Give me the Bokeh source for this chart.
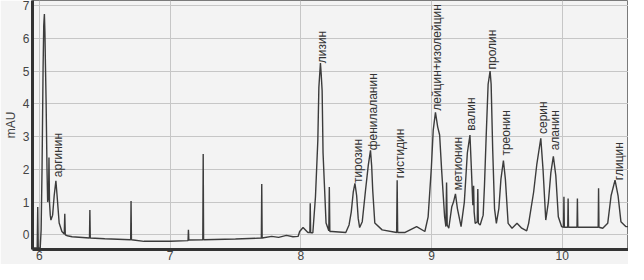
import math
from bokeh.plotting import figure
from bokeh.models import Range1d, FixedTicker, ColumnDataSource
from bokeh.embed import file_html
from bokeh.resources import INLINE
from bokeh.core.properties import value

# retention time (min) and absorbance (mAU)
time = [
    5.950, 5.983, 5.987, 5.991, 6.006, 6.013, 6.020, 6.028, 6.033, 6.038,
    6.042, 6.046, 6.051, 6.058, 6.063, 6.070, 6.073, 6.077, 6.083, 6.088,
    6.101, 6.113, 6.126, 6.135, 6.151, 6.172, 6.190, 6.194, 6.198, 6.214,
    6.250, 6.383, 6.386, 6.389, 6.500, 6.698, 6.701, 6.704, 6.800, 7.000,
    7.137, 7.140, 7.143, 7.250, 7.253, 7.256, 7.500, 7.698, 7.701, 7.704,
    7.777, 7.830, 7.890, 7.940, 7.979, 7.991, 8.017, 8.054, 8.069, 8.072,
    8.075, 8.092, 8.112, 8.130, 8.138, 8.150, 8.156, 8.163, 8.170, 8.180,
    8.193, 8.214, 8.218, 8.222, 8.238, 8.344, 8.369, 8.386, 8.401, 8.414,
    8.427, 8.439, 8.450, 8.470, 8.495, 8.516, 8.533, 8.542, 8.550, 8.566,
    8.622, 8.733, 8.737, 8.741, 8.798, 8.886, 8.949, 8.974, 8.999, 9.013,
    9.030, 9.047, 9.062, 9.077, 9.100, 9.110, 9.115, 9.120, 9.132, 9.155,
    9.168, 9.183, 9.198, 9.226, 9.251, 9.274, 9.294, 9.305, 9.316, 9.322,
    9.326, 9.334, 9.350, 9.354, 9.358, 9.372, 9.395, 9.405, 9.418, 9.433,
    9.448, 9.456, 9.468, 9.482, 9.496, 9.515, 9.531, 9.550, 9.565, 9.586,
    9.616, 9.654, 9.690, 9.728, 9.743, 9.781, 9.806, 9.836, 9.853, 9.874,
    9.894, 9.913, 9.932, 9.951, 9.970, 9.995, 10.010, 10.013, 10.016, 10.042,
    10.045, 10.048, 10.113, 10.116, 10.119, 10.275, 10.278, 10.281, 10.310, 10.348,
    10.374, 10.404, 10.427, 10.449, 10.486, 10.550,
]
mau = [
    -0.40, -0.40, 0.85, -0.40, -0.40, 0.15, 2.0, 5.1, 6.4, 6.75,
    6.2, 5.2, 4.1, 2.0, 1.0, 1.2, 2.36, 1.0, 0.6, 0.45,
    0.6, 1.2, 1.65, 1.2, 0.36, 0.1, 0.02, 0.64, 0.0, -0.03,
    -0.06, -0.10, 0.76, -0.10, -0.12, -0.15, 1.03, -0.15, -0.20, -0.20,
    -0.18, 0.15, -0.16, -0.15, 2.47, -0.15, -0.13, -0.10, 1.55, -0.10,
    -0.05, -0.08, -0.02, -0.06, -0.05, 0.10, 0.22, 0.07, 0.07, 0.96,
    0.06, 0.06, 1.16, 2.88, 4.5, 5.25, 4.9, 4.4, 2.5, 1.57,
    0.36, 0.12, 1.46, 0.1, 0.1, 0.07, 0.3, 0.7, 1.3, 1.57,
    1.2, 0.5, 0.22, 0.4, 1.36, 2.12, 2.58, 2.1, 1.36, 0.36,
    0.15, 0.07, 1.67, 0.07, 0.07, 0.25, 0.1, 0.55, 2.07, 3.2,
    3.74, 3.3, 3.05, 2.0, 0.55, 0.25, 1.6, 0.3, 0.2, 0.86,
    1.0, 1.25, 0.8, 0.25, 1.0, 2.5, 3.05, 2.0, 0.9, 1.5,
    0.7, 0.35, 0.4, 1.4, 0.35, 0.3, 0.6, 1.5, 3.0, 4.6,
    5.0, 4.6, 2.6, 0.8, 0.35, 0.8, 1.7, 2.27, 1.7, 0.35,
    0.2, 0.35, 0.2, 0.12, 0.35, 1.3, 2.17, 2.95, 2.0, 0.45,
    1.0, 1.9, 2.4, 1.8, 0.55, 0.25, 0.23, 1.16, 0.23, 0.23,
    1.11, 0.23, 0.23, 1.11, 0.23, 0.23, 1.42, 0.23, 0.2, 0.35,
    1.2, 1.67, 1.2, 0.4, 0.25, 0.25,
]

# peak annotations (amino acids)
peak_names = ["аргинин", "лизин", "тирозин", "фенилаланин", "гистидин",
              "лейцин+изолейцин", "метионин", "валин", "пролин", "треонин",
              "серин", "аланин", "глицин"]
peak_time = [6.140, 8.163, 8.439, 8.554, 8.760, 9.043, 9.206, 9.304, 9.463,
             9.569, 9.856, 9.943, 10.431]
peak_label_y = [1.76, 5.24, 1.58, 2.58, 1.73, 3.79, 1.36, 3.18, 5.05, 2.42,
                3.08, 2.58, 1.67]

x_ticks = [6, 7, 8, 9, 10]
y_ticks = [0, 1, 2, 3, 4, 5, 6, 7]

BG = "#f3f3f3"
FONT = "Liberation Sans"

p = figure(width=628, height=264, output_backend="svg", toolbar_location=None,
           x_range=Range1d(5.947, 10.507), y_range=Range1d(-0.45, 7.16),
           min_border_left=25, min_border_right=0, min_border_top=0,
           min_border_bottom=15)
p.background_fill_color = BG
p.border_fill_color = BG
p.outline_line_color = "#7a7a7a"
p.outline_line_width = 1

p.grid.grid_line_color = "#c6c6c6"
p.grid.grid_line_width = 1

p.xaxis.ticker = FixedTicker(ticks=x_ticks)
p.yaxis.ticker = FixedTicker(ticks=y_ticks)
for ax in (p.xaxis, p.yaxis):
    ax.axis_line_color = "#333333"
    ax.axis_line_width = 3
    ax.major_tick_line_color = None
    ax.minor_tick_line_color = None
    ax.major_tick_out = 0
    ax.major_tick_in = 0
    ax.major_label_text_font = FONT
    ax.major_label_text_font_size = "12px"
    ax.major_label_text_color = "#444444"
p.xaxis.major_label_standoff = 1
p.yaxis.major_label_standoff = 3
p.yaxis.axis_label = "mAU"
p.yaxis.axis_label_text_font = FONT
p.yaxis.axis_label_text_font_size = "12px"
p.yaxis.axis_label_text_font_style = "normal"
p.yaxis.axis_label_text_color = "#444444"
p.yaxis.axis_label_standoff = 2

src = ColumnDataSource(dict(t=time, a=mau))
p.line("t", "a", source=src, line_color="#3c3c3c", line_width=1.4)

lab = ColumnDataSource(dict(x=peak_time, y=peak_label_y, txt=peak_names))
p.text("x", "y", text="txt", source=lab, angle=math.pi / 2,
       text_align="left", text_baseline="middle",
       text_font=value(FONT), text_font_size="12px", text_color="#333333")

open("out.html", "w").write(file_html(p, INLINE))
